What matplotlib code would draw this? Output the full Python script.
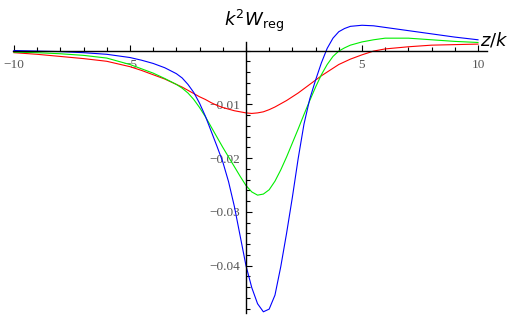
import matplotlib
matplotlib.use("Agg")
import matplotlib.pyplot as plt
import numpy as np

# z/k sample positions
z = [-10, -9, -8, -7, -6, -5, -4.5, -4, -3.5, -3, -2.75, -2.5, -2.25, -2,
     -1.75, -1.5, -1.25, -1, -0.75, -0.5, -0.25, 0, 0.25, 0.5, 0.75, 1.0,
     1.25, 1.5, 1.75, 2.0, 2.25, 2.5, 2.75, 3.0, 3.25, 3.5, 3.75, 4.0, 4.25,
     4.5, 5, 5.5, 6, 7, 8, 9, 10]

w_red = [-0.0004, -0.0007, -0.0011, -0.0015, -0.0020, -0.0030, -0.0037, -0.0045,
         -0.0053, -0.0063, -0.0068, -0.0074, -0.0080, -0.0086, -0.0091, -0.0097,
         -0.0102, -0.0106, -0.0109, -0.0112, -0.0114, -0.0116, -0.0117, -0.0116,
         -0.0114, -0.0110, -0.0105, -0.0099, -0.0093, -0.0086, -0.0079, -0.0071,
         -0.0063, -0.0055, -0.0047, -0.0040, -0.0033, -0.0026, -0.0021, -0.0016,
         -0.0008, -0.0001, 0.0003, 0.0007, 0.0010, 0.0011, 0.0012]

w_green = [-0.0003, -0.0004, -0.0006, -0.0009, -0.0014, -0.0026, -0.0034, -0.0042,
           -0.0052, -0.0063, -0.0070, -0.0079, -0.0091, -0.0106, -0.0123, -0.0142,
           -0.0161, -0.0180, -0.0198, -0.0216, -0.0234, -0.0251, -0.0263, -0.0269,
           -0.0267, -0.0259, -0.0243, -0.0222, -0.0198, -0.0172, -0.0146, -0.0119,
           -0.0093, -0.0068, -0.0045, -0.0026, -0.0011, -0.0001, 0.0005, 0.0010,
           0.0016, 0.0020, 0.0023, 0.0023, 0.0020, 0.0017, 0.0015]

w_blue = [0.0000, -0.0001, -0.0002, -0.0004, -0.0007, -0.0013, -0.0018, -0.0024,
          -0.0032, -0.0043, -0.0051, -0.0063, -0.0078, -0.0098, -0.0122, -0.0150,
          -0.0178, -0.0207, -0.0244, -0.0290, -0.0345, -0.0400, -0.0441, -0.0471,
          -0.0486, -0.0481, -0.0455, -0.0402, -0.0340, -0.0273, -0.0201, -0.0137,
          -0.0090, -0.0055, -0.0023, 0.0004, 0.0023, 0.0035, 0.0041, 0.0045,
          0.0047, 0.0046, 0.0043, 0.0037, 0.0031, 0.0025, 0.0020]

xticks = [-10, -5, 5, 10]
xticklabels = ['\u221210', '\u22125', '5', '10']
yticks = [-0.04, -0.03, -0.02, -0.01]
yticklabels = ['\u22120.04', '\u22120.03', '\u22120.02', '\u22120.01']

fig = plt.figure(figsize=(5.2, 3.29), dpi=100)
ax = fig.add_axes([0, 0, 1, 1])
ax.patch.set_alpha(0)

ax.plot(z, w_red, color='#ff0000', lw=0.8)
ax.plot(z, w_green, color='#00ee00', lw=0.8)
ax.plot(z, w_blue, color='#0000ff', lw=0.8)

ax.set_xlim(-10.6, 11.81)
ax.set_ylim(-0.0518, 0.0094)

for s in ['top', 'right']:
    ax.spines[s].set_visible(False)
ax.spines['left'].set_position(('data', 0))
ax.spines['bottom'].set_position(('data', 0))
ax.spines['bottom'].set_bounds(-10.05, 10.4)
ax.spines['left'].set_bounds(-0.0488, 0.0016)
ax.spines['left'].set_linewidth(1.0)
ax.spines['bottom'].set_linewidth(1.0)

ax.set_xticks(xticks)
ax.set_xticklabels(xticklabels, family='Liberation Serif', fontsize=9.5, color='#555555')
ax.set_xticks(np.arange(-10, 11, 1), minor=True)
ax.set_yticks(yticks)
ax.set_yticklabels(yticklabels, family='Liberation Serif', fontsize=9.5, color='#555555')
ax.set_yticks(np.arange(-0.048, 0.001, 0.002), minor=True)

ax.tick_params(axis='x', which='major', direction='in', length=4.5, width=0.8, pad=6)
ax.tick_params(axis='x', which='minor', direction='in', length=3, width=0.8)
ax.tick_params(axis='y', which='major', direction='in', length=4.5, width=0.8, pad=4)
ax.tick_params(axis='y', which='minor', direction='in', length=3, width=0.8)

fig.text(254 / 520, 1 - 21 / 329, r'$k^2W_{\rm reg}$', fontsize=13,
         ha='center', va='center')
fig.text(494 / 520, 1 - 40 / 329, r'$z/k$', fontsize=13,
         ha='center', va='center')

fig.savefig('out.png', dpi=100)
